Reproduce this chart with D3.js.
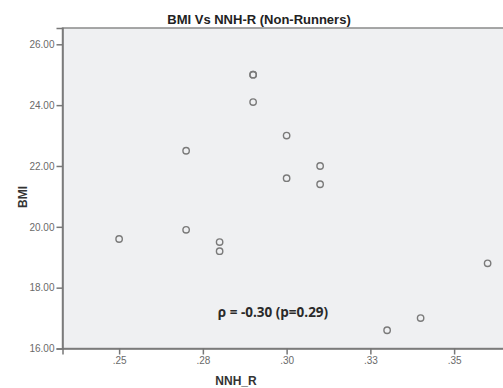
<!DOCTYPE html>
<html><head><meta charset="utf-8">
<script src="https://cdn.jsdelivr.net/npm/d3@7"></script>
<style>body{margin:0;background:#fff;overflow:hidden}</style>
</head><body>
<svg id="c" width="503" height="388"></svg>
<script>
const nnhR = [0.25, 0.27, 0.27, 0.28, 0.28, 0.29, 0.29, 0.29, 0.30, 0.30, 0.31, 0.31, 0.33, 0.34, 0.36];
const bmi  = [19.6, 22.5, 19.9, 19.5, 19.2, 25.0, 25.0, 24.1, 23.0, 21.6, 22.0, 21.4, 16.6, 17.0, 18.8];
const xTicks = [0.25, 0.275, 0.30, 0.325, 0.35];
const xTickLabels = [".25", ".28", ".30", ".33", ".35"];
const yTicks = [16, 18, 20, 22, 24, 26];
const title = "BMI Vs NNH-R (Non-Runners)";
const annotation = "ρ = -0.30 (p=0.29)";

const svg = d3.select("#c");
const L = 62.5, R = 512, T = 28, B = 348.5;
const x = d3.scaleLinear().domain([0.2331, 0.2331 + (R - L) / 3350]).range([L, R]);
const y = d3.scaleLinear().domain([16, 16 + (B - T) / 30.42]).range([B, T]);

svg.append("rect").attr("x", L).attr("y", T).attr("width", R - L).attr("height", B - T)
  .attr("fill", "#eff0f2").attr("stroke", "#8a8a8a").attr("stroke-width", 1.5);

const yAxis = svg.append("g").attr("transform", `translate(${L},0)`)
  .call(d3.axisLeft(y).tickValues(yTicks).tickFormat(d3.format(".2f")).tickSize(6).tickPadding(2));
const xAxis = svg.append("g").attr("transform", `translate(0,${B})`)
  .call(d3.axisBottom(x).tickValues(xTicks).tickFormat((d, i) => xTickLabels[i]).tickSize(6).tickPadding(2));
[yAxis, xAxis].forEach(a => {
  a.select(".domain").attr("stroke", "#777").attr("stroke-width", 1.5);
  a.selectAll(".tick line").attr("stroke", "#777").attr("stroke-width", 1.5);
  a.selectAll(".tick text").attr("fill", "#6a6a6a").style("font-family", "Arial, 'Liberation Sans', sans-serif").style("font-size", "10px");
});

svg.append("g").selectAll("circle").data(nnhR).join("circle")
  .attr("cx", d => x(d)).attr("cy", (d, i) => y(bmi[i])).attr("r", 3.2)
  .attr("fill", "none").attr("stroke", "#7a7a7a").attr("stroke-width", 1.4);

svg.append("text").attr("x", 259).attr("y", 24).attr("text-anchor", "middle")
  .style("font-family", "Arial, 'Liberation Sans', sans-serif").style("font-size", "13px").style("font-weight", "bold")
  .attr("fill", "#222").text(title);

svg.append("text").attr("transform", "translate(27,197) rotate(-90)").attr("text-anchor", "middle")
  .style("font-family", "Arial, 'Liberation Sans', sans-serif").style("font-size", "12px").style("font-weight", "bold")
  .attr("fill", "#333").text("BMI");

svg.append("text").attr("x", 236).attr("y", 385).attr("text-anchor", "middle")
  .style("font-family", "Arial, 'Liberation Sans', sans-serif").style("font-size", "12px").style("font-weight", "bold")
  .attr("fill", "#333").text("NNH_R");

svg.append("text").attr("x", 273).attr("y", 317).attr("text-anchor", "middle")
  .style("font-family", "'Open Sans', sans-serif").style("font-size", "13.5px").style("font-weight", "bold")
  .attr("fill", "#2a2a2a").text(annotation);
</script>
</body></html>
